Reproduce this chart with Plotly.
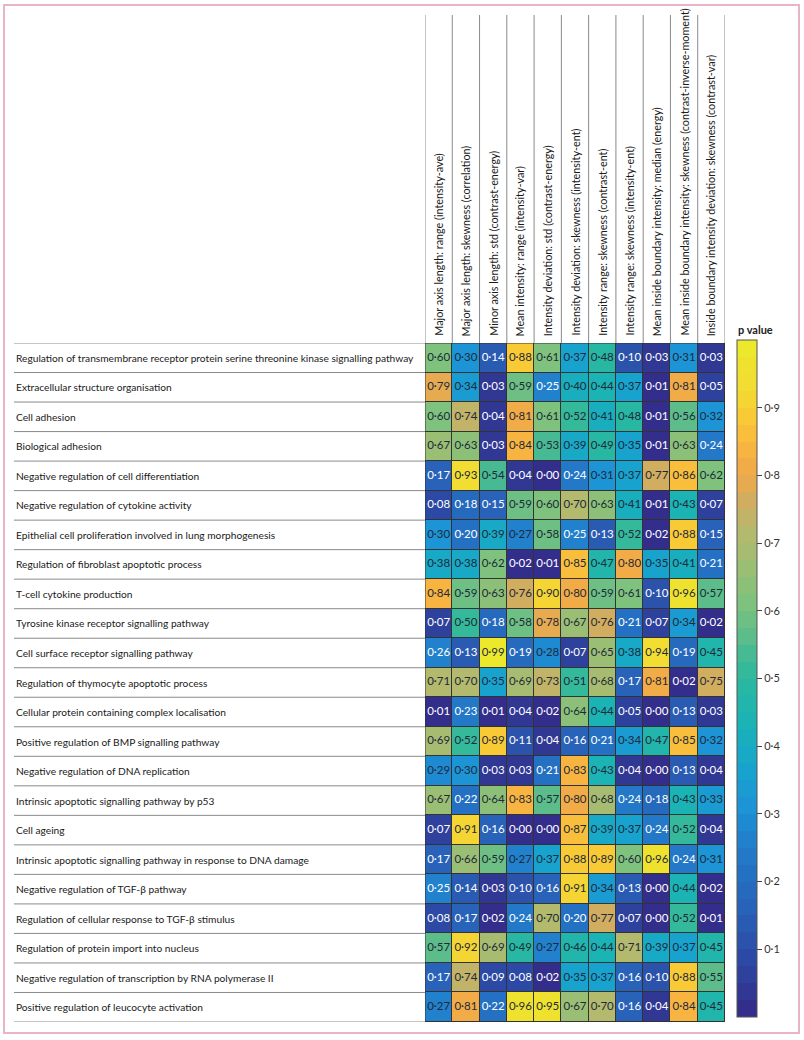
import plotly.graph_objects as go

# GO terms (rows, top to bottom)
terms = [
    "Regulation of transmembrane receptor protein serine threonine kinase signalling pathway",
    "Extracellular structure organisation",
    "Cell adhesion",
    "Biological adhesion",
    "Negative regulation of cell differentiation",
    "Negative regulation of cytokine activity",
    "Epithelial cell proliferation involved in lung morphogenesis",
    "Regulation of fibroblast apoptotic process",
    "T-cell cytokine production",
    "Tyrosine kinase receptor signalling pathway",
    "Cell surface receptor signalling pathway",
    "Regulation of thymocyte apoptotic process",
    "Cellular protein containing complex localisation",
    "Positive regulation of BMP signalling pathway",
    "Negative regulation of DNA replication",
    "Intrinsic apoptotic signalling pathway by p53",
    "Cell ageing",
    "Intrinsic apoptotic signalling pathway in response to DNA damage",
    "Negative regulation of TGF-β pathway",
    "Regulation of cellular response to TGF-β stimulus",
    "Regulation of protein import into nucleus",
    "Negative regulation of transcription by RNA polymerase II",
    "Positive regulation of leucocyte activation",
]

# radiomic features (columns)
features = [
    "Major axis length: range (intensity-ave)",
    "Major axis length: skewness (correlation)",
    "Minor axis length: std (contrast-energy)",
    "Mean intensity: range (intensity-var)",
    "Intensity deviation: std (contrast-energy)",
    "Intensity deviation: skewness (intensity-ent)",
    "Intensity range: skewness (contrast-ent)",
    "Intensity range: skewness (intensity-ent)",
    "Mean inside boundary intensity: median (energy)",
    "Mean inside boundary intensity: skewness (contrast-inverse-moment)",
    "Inside boundary intensity deviation: skewness (contrast-var)",
]

pvals = [
    [0.60, 0.30, 0.14, 0.88, 0.61, 0.37, 0.48, 0.10, 0.03, 0.31, 0.03],
    [0.79, 0.34, 0.03, 0.59, 0.25, 0.40, 0.44, 0.37, 0.01, 0.81, 0.05],
    [0.60, 0.74, 0.04, 0.81, 0.61, 0.52, 0.41, 0.48, 0.01, 0.56, 0.32],
    [0.67, 0.63, 0.03, 0.84, 0.53, 0.39, 0.49, 0.35, 0.01, 0.63, 0.24],
    [0.17, 0.93, 0.54, 0.04, 0.00, 0.24, 0.31, 0.37, 0.77, 0.86, 0.62],
    [0.08, 0.18, 0.15, 0.59, 0.60, 0.70, 0.63, 0.41, 0.01, 0.43, 0.07],
    [0.30, 0.20, 0.39, 0.27, 0.58, 0.25, 0.13, 0.52, 0.02, 0.88, 0.15],
    [0.38, 0.38, 0.62, 0.02, 0.01, 0.85, 0.47, 0.80, 0.35, 0.41, 0.21],
    [0.84, 0.59, 0.63, 0.76, 0.90, 0.80, 0.59, 0.61, 0.10, 0.96, 0.57],
    [0.07, 0.50, 0.18, 0.58, 0.78, 0.67, 0.76, 0.21, 0.07, 0.34, 0.02],
    [0.26, 0.13, 0.99, 0.19, 0.28, 0.07, 0.65, 0.38, 0.94, 0.19, 0.45],
    [0.71, 0.70, 0.35, 0.69, 0.73, 0.51, 0.68, 0.17, 0.81, 0.02, 0.75],
    [0.01, 0.23, 0.01, 0.04, 0.02, 0.64, 0.44, 0.05, 0.00, 0.13, 0.03],
    [0.69, 0.52, 0.89, 0.11, 0.04, 0.16, 0.21, 0.34, 0.47, 0.85, 0.32],
    [0.29, 0.30, 0.03, 0.03, 0.21, 0.83, 0.43, 0.04, 0.00, 0.13, 0.04],
    [0.67, 0.22, 0.64, 0.83, 0.57, 0.80, 0.68, 0.24, 0.18, 0.43, 0.33],
    [0.07, 0.91, 0.16, 0.00, 0.00, 0.87, 0.39, 0.37, 0.24, 0.52, 0.04],
    [0.17, 0.66, 0.59, 0.27, 0.37, 0.88, 0.89, 0.60, 0.96, 0.24, 0.31],
    [0.25, 0.14, 0.03, 0.10, 0.16, 0.91, 0.34, 0.13, 0.00, 0.44, 0.02],
    [0.08, 0.17, 0.02, 0.24, 0.70, 0.20, 0.77, 0.07, 0.00, 0.52, 0.01],
    [0.57, 0.92, 0.69, 0.49, 0.27, 0.46, 0.44, 0.71, 0.39, 0.37, 0.45],
    [0.17, 0.74, 0.09, 0.08, 0.02, 0.35, 0.37, 0.16, 0.10, 0.88, 0.55],
    [0.27, 0.81, 0.22, 0.96, 0.95, 0.67, 0.70, 0.16, 0.04, 0.84, 0.45],
]

cbar_ticks = [0.1, 0.2, 0.3, 0.4, 0.5, 0.6, 0.7, 0.8, 0.9]

W, H = 804, 1040
FONT = "Lato"

# parula-like anchors, then cut into 40 flat bands like the printed key
anchors = [
    (0.00, (0x35, 0x2a, 0x87)), (0.05, (0x2e, 0x3c, 0x98)), (0.10, (0x2c, 0x4f, 0xa9)),
    (0.17, (0x27, 0x65, 0xbb)), (0.25, (0x22, 0x7c, 0xcb)), (0.31, (0x1c, 0x93, 0xd6)),
    (0.37, (0x17, 0xa5, 0xcd)), (0.43, (0x1a, 0xb2, 0xb6)), (0.50, (0x2a, 0xb8, 0x9f)),
    (0.56, (0x5a, 0xbc, 0x8b)), (0.61, (0x7c, 0xc2, 0x7e)), (0.67, (0xa0, 0xbe, 0x74)),
    (0.72, (0xb6, 0xb8, 0x6c)), (0.76, (0xcf, 0xad, 0x60)), (0.80, (0xf0, 0xa8, 0x4a)),
    (0.85, (0xf9, 0xb8, 0x3e)), (0.89, (0xf8, 0xcb, 0x35)), (0.93, (0xf3, 0xdc, 0x33)),
    (1.00, (0xea, 0xea, 0x2a)),
]


def interp(v):
    for (a, ca), (b, cb) in zip(anchors[:-1], anchors[1:]):
        if a <= v <= b:
            t = (v - a) / (b - a)
            return "rgb(%d,%d,%d)" % tuple(round(ca[k] + t * (cb[k] - ca[k])) for k in range(3))
    return "rgb(%d,%d,%d)" % anchors[-1][1]


nb = 40
cscale = []
for i in range(nb):
    c = interp((i + 0.5) / nb)
    cscale.append([i / nb, c])
    cscale.append([(i + 1) / nb, c])

# pixel geometry
gx0, gx1 = 425, 725
gy0, gy1 = 343, 1022
lab_x = 14


def px(x):
    return x / W


def py(y):
    return 1 - y / H


nr, nc = len(terms), len(features)
xs = list(range(nc))
ys = list(range(nr))

fig = go.Figure()
fig.add_trace(go.Heatmap(
    z=pvals, x=xs, y=ys, zmin=0, zmax=1, colorscale=cscale,
    xgap=1, ygap=1, hoverinfo="skip",
    colorbar=dict(
        x=px(737), xanchor="left", y=py(340), yanchor="top",
        lenmode="pixels", len=1017 - 340, thickness=20, thicknessmode="pixels",
        ypad=0, xpad=0, outlinecolor="#555", outlinewidth=1,
        ticks="outside", ticklen=5, tickcolor="#444",
        tickvals=cbar_ticks, ticktext=[("%.1f" % t).replace(".", "·") for t in cbar_ticks],
        tickfont=dict(family=FONT, size=11, color="#333"),
    ),
))

tx, ty, tt, tc = [], [], [], []
for i, row in enumerate(pvals):
    for j, v in enumerate(row):
        tx.append(j)
        ty.append(i)
        tt.append(("%.2f" % v).replace(".", "·"))
        tc.append("white" if v < 0.27 else "#1e2a3a")
fig.add_trace(go.Scatter(
    x=tx, y=ty, text=tt, mode="text", hoverinfo="skip", showlegend=False,
    textfont=dict(family=FONT, size=11.5, color=tc),
))

shapes = []
# row separators on the left
for i in range(nr + 1):
    shapes.append(dict(type="line", xref="paper", yref="y", x0=px(lab_x), x1=px(gx0),
                       y0=i - 0.5, y1=i - 0.5, line=dict(color="#8a8a8a", width=1)))
# header column lines
for j in range(nc + 1):
    shapes.append(dict(type="line", xref="x", yref="paper", x0=j - 0.5, x1=j - 0.5,
                       y0=py(gy0), y1=py(15), line=dict(color="#8a8a8a", width=1)))
# outline of the grid
shapes.append(dict(type="rect", xref="x", yref="y", x0=-0.5, x1=nc - 0.5, y0=-0.5, y1=nr - 0.5,
                   line=dict(color="#333", width=1)))
# pink frame
shapes.append(dict(type="rect", xref="paper", yref="paper", x0=px(4), x1=px(799),
                   y0=py(1033), y1=py(5), line=dict(color="#e9b3c8", width=2)))

ann = []
for i, t in enumerate(terms):
    ann.append(dict(xref="paper", yref="y", x=px(lab_x), y=i, text=t, showarrow=False,
                    xanchor="left", yanchor="middle",
                    font=dict(family=FONT, size=10.2, color="#1a1a1a")))
for j, f in enumerate(features):
    ann.append(dict(xref="x", yref="paper", x=j, y=py(338), text=f, showarrow=False,
                    textangle=-90, xanchor="center", yanchor="bottom",
                    font=dict(family=FONT, size=10.8, color="#1a1a1a")))
ann.append(dict(xref="paper", yref="paper", x=px(736), y=py(329), text="<b>p value</b>",
                showarrow=False, xanchor="left", yanchor="middle",
                font=dict(family=FONT, size=11, color="#222")))

fig.update_layout(
    width=W, height=H, margin=dict(l=0, r=0, t=0, b=0),
    paper_bgcolor="white", plot_bgcolor="#333",
    xaxis=dict(domain=[px(gx0), px(gx1)], range=[-0.5, nc - 0.5], showticklabels=False,
               showgrid=False, zeroline=False, ticks=""),
    yaxis=dict(domain=[py(gy1), py(gy0)], range=[nr - 0.5, -0.5], showticklabels=False,
               showgrid=False, zeroline=False, ticks=""),
    shapes=shapes, annotations=ann, showlegend=False,
)

# drop the default body margin so the 804x1040 figure fills the window exactly
fig.write_html("out.html", config={"displayModeBar": False},
               post_script="document.body.style.margin='0';")
